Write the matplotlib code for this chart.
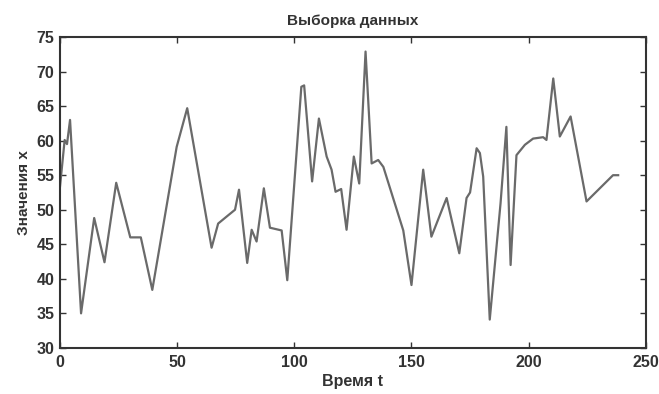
import matplotlib
matplotlib.use("Agg")
import matplotlib.pyplot as plt

t = [0, 2, 3, 4.3, 9, 14.6, 19, 24, 30, 34.5, 39.4, 49.8, 54.3, 64.7, 67.5, 71.8,
     74.7, 76.4, 79.9, 81.8, 83.9, 87, 89.6, 94.6, 97, 103, 104.2, 107.6, 110.5,
     113.8, 115.9, 117.6, 120, 122.3, 125.4, 127.7, 130.4, 133, 135.8, 138, 146.5,
     150, 155, 158.5, 165, 170.4, 173.5, 175, 177.8, 179.2, 180.6, 183.4, 188,
     190.5, 192.3, 194.8, 198.4, 201.9, 206.2, 207.6, 210.5, 213.3, 217.9, 224.7,
     236, 238.2]
x = [53.3, 60.1, 59.5, 63, 35, 48.8, 42.4, 53.9, 46, 46, 38.4, 59.1, 64.7, 44.5,
     48, 49.2, 50, 52.9, 42.3, 47.1, 45.4, 53.1, 47.4, 47, 39.8, 67.8, 68, 54.1,
     63.2, 57.7, 55.8, 52.6, 53, 47.1, 57.7, 53.8, 72.9, 56.7, 57.2, 56.2, 47,
     39.1, 55.8, 46.1, 51.7, 43.7, 51.7, 52.5, 58.9, 58.2, 54.8, 34.1, 50.9,
     62, 42, 57.9, 59.4, 60.3, 60.5, 60.1, 69, 60.6, 63.5, 51.2, 55, 55]

xticks = [0, 50, 100, 150, 200, 250]
yticks = [30, 35, 40, 45, 50, 55, 60, 65, 70, 75]

plt.rcParams['font.family'] = ['Liberation Sans', 'DejaVu Sans']
fig = plt.figure(figsize=(6.59, 3.94), dpi=100)
ax = fig.add_axes([0.091, 0.117, 0.889, 0.789])
ax.plot(t, x, color='#6a6a6a', linewidth=1.6)
ax.set_xlim(0, 250)
ax.set_ylim(30, 75)
ax.set_xticks(xticks)
ax.set_yticks(yticks)
ax.tick_params(direction='in', top=True, right=True, length=4, width=1,
               colors='#333333', labelsize=11.5)
ax.tick_params(axis='x', pad=5)
ax.tick_params(axis='y', pad=4)
for lbl in ax.get_xticklabels() + ax.get_yticklabels():
    lbl.set_fontweight('bold')
    lbl.set_color('#333333')
for s in ax.spines.values():
    s.set_color('#333333')
    s.set_linewidth(1.5)
ax.set_title('Выборка данных', fontsize=11, fontweight='bold', color='#333333', pad=9)
ax.set_xlabel('Время t', fontsize=11.5, fontweight='bold', color='#333333', labelpad=3)
ax.set_ylabel('Значения x', fontsize=11, fontweight='bold', color='#333333', labelpad=4)
fig.savefig('out.png', dpi=100)
